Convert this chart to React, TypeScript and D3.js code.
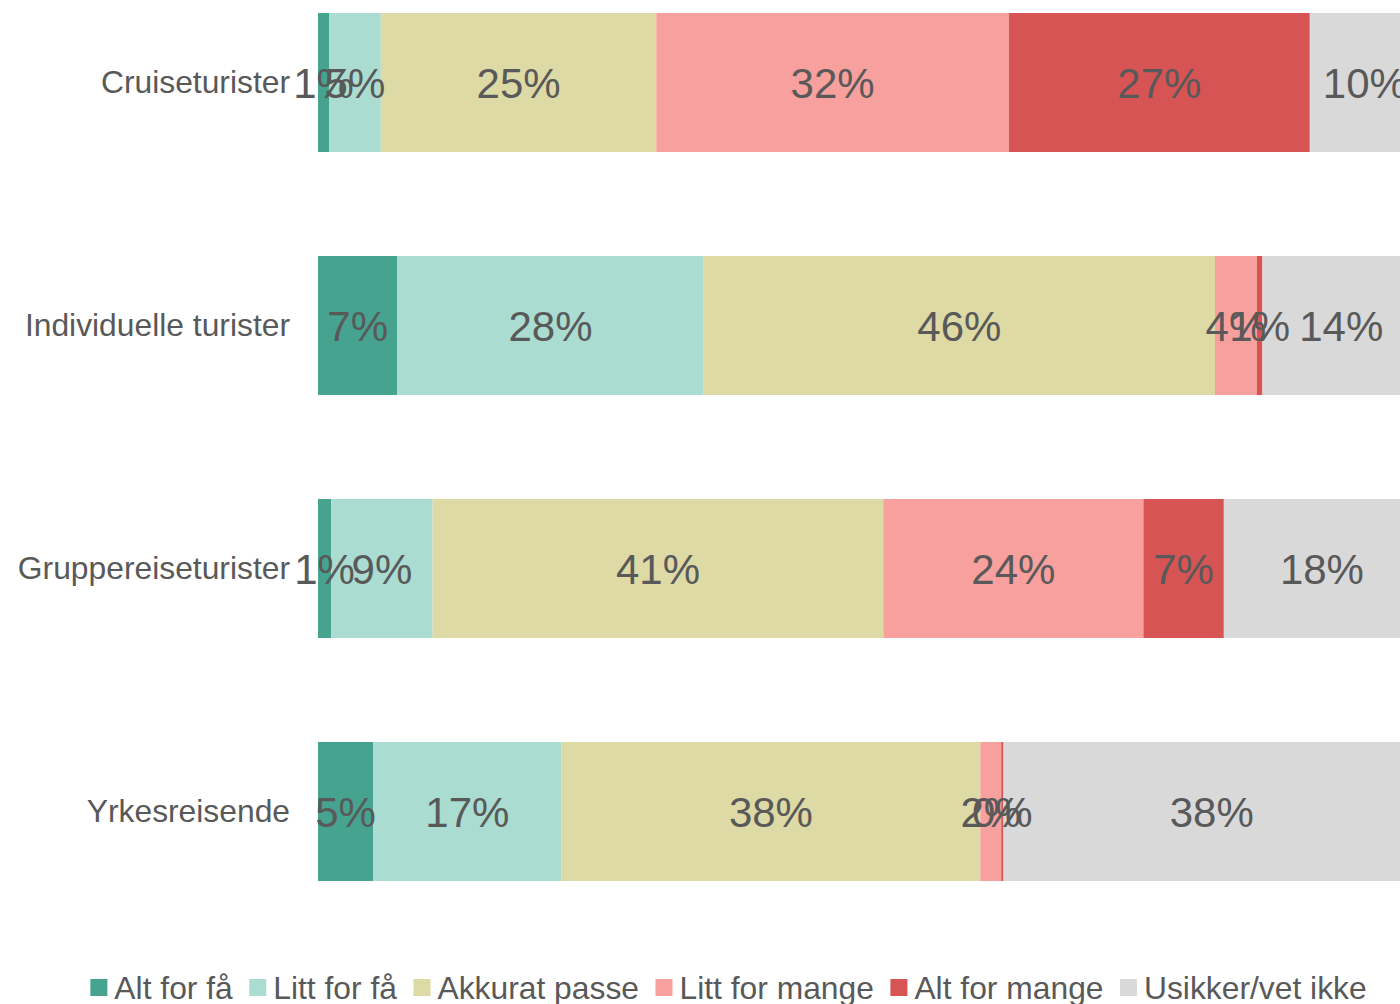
import React, { useEffect, useRef } from "react";
import * as d3 from "d3";

const categories = ["Cruiseturister", "Individuelle turister", "Gruppereiseturister", "Yrkesreisende"];
const seriesNames = ["Alt for få", "Litt for få", "Akkurat passe", "Litt for mange", "Alt for mange", "Usikker/vet ikke"];
const seriesColors = ["#46A390", "#AADCD1", "#DDDAA5", "#F7A09D", "#D65454", "#D9D9D9"];
// values in percent per category, in series order
const cruiseValues = [1.0, 4.7, 25.0, 32.0, 27.3, 10.0];
const individuelleValues = [7.2, 27.8, 46.4, 3.8, 0.5, 14.3];
const gruppeValues = [1.2, 9.2, 40.9, 23.6, 7.3, 17.8];
const yrkesValues = [5.0, 17.1, 38.0, 1.9, 0.2, 37.8];
const allValues = [cruiseValues, individuelleValues, gruppeValues, yrkesValues];

const W = 1400;
const H = 1004;
const TEXT = "#595959";
const FONT = "'Liberation Sans', Arial, sans-serif";

export default function App() {
  const legendRef = useRef<SVGGElement | null>(null);

  const x = d3.scaleLinear().domain([0, 100]).range([318, 1420]);
  const y = d3
    .scaleBand<string>()
    .domain(categories)
    .range([-39, 933])
    .paddingInner(0.428)
    .paddingOuter(0.214);

  const rows = categories.map((c, i) => {
    const vals = allValues[i];
    let acc = 0;
    const segs = vals.map((v, j) => {
      const s = { key: seriesNames[j], x0: acc, x1: acc + v, v, color: seriesColors[j] };
      acc += v;
      return s;
    });
    return { cat: c, segs };
  });

  useEffect(() => {
    const g = d3.select(legendRef.current);
    if (!g.node()) return;
    g.selectAll("*").remove();
    const items = g
      .selectAll("g.item")
      .data(seriesNames)
      .enter()
      .append("g")
      .attr("class", "item");
    items
      .append("rect")
      .attr("width", 17)
      .attr("height", 17)
      .attr("y", 979)
      .attr("fill", (_d, i) => seriesColors[i]);
    items
      .append("text")
      .text((d) => d)
      .attr("x", 24)
      .attr("y", 999)
      .attr("font-size", 31.8)
      .attr("font-family", FONT)
      .attr("fill", TEXT);
    const widths: number[] = [];
    items.each(function () {
      const t = d3.select(this).select("text").node() as SVGTextElement;
      widths.push(24 + t.getComputedTextLength());
    });
    const gap = 16.5;
    const total = d3.sum(widths) + gap * (widths.length - 1);
    let cx = 728.5 - total / 2;
    items.attr("transform", (_d, i) => {
      const tx = cx;
      cx += widths[i] + gap;
      return `translate(${tx},0)`;
    });
  }, []);

  return (
    <svg
      width={W}
      height={H}
      style={{ position: "absolute", left: 0, top: 0, background: "#fff" }}
      fontFamily={FONT}
    >
      {rows.map((r) => {
        const by = y(r.cat)!;
        const bh = y.bandwidth();
        return (
          <g key={r.cat}>
            {r.segs.map((s) => (
              <rect
                key={s.key}
                x={x(s.x0)}
                y={by}
                width={x(s.x1) - x(s.x0)}
                height={bh}
                fill={s.color}
              />
            ))}
            <text
              x={290}
              y={by + bh / 2}
              dy="0.33em"
              textAnchor="end"
              fontSize={31.8}
              fill={TEXT}
            >
              {r.cat}
            </text>
            {r.segs.map((s) => (
              <text
                key={"l" + s.key}
                x={(x(s.x0) + x(s.x1)) / 2}
                y={by + bh / 2}
                dy="0.36em"
                textAnchor="middle"
                fontSize={42}
                fill={TEXT}
              >
                {Math.round(s.v) + "%"}
              </text>
            ))}
          </g>
        );
      })}
      <g ref={legendRef} />
    </svg>
  );
}
